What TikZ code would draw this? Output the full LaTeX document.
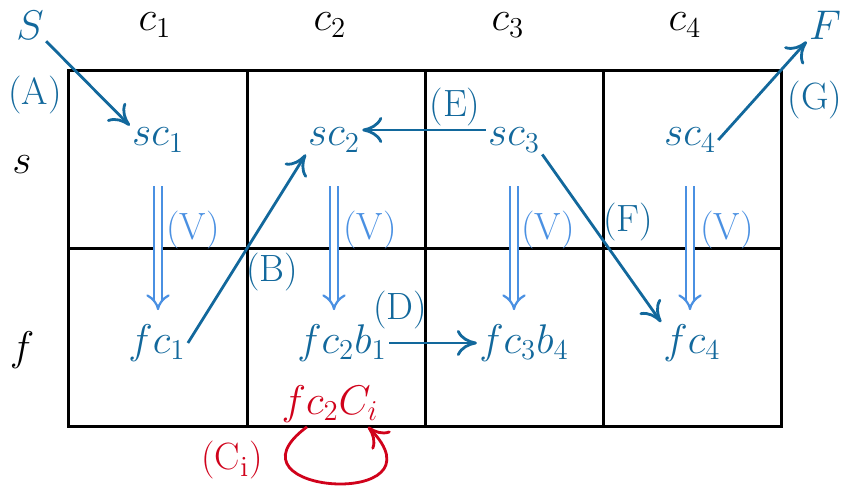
\documentclass[tikz,border=0pt]{standalone}
\usetikzlibrary{arrows.meta,calc}
\definecolor{dblue}{RGB}{18,104,156}
\definecolor{lblue}{RGB}{74,144,226}
\definecolor{cred}{RGB}{208,2,27}
\begin{document}
\begin{tikzpicture}[x=0.5pt,y=-0.5pt,
  every node/.style={font=\fontsize{21}{24}\selectfont, inner sep=1pt},
  bl/.style={text=dblue},
  lab/.style={font=\fontsize{19}{22}\selectfont},
  gridline/.style={line width=1.5pt, black},
  conn/.style={dblue, line width=1.4pt, -{To[length=10pt,width=13pt]}},
  varrow/.style={lblue, double, double distance=2.9pt, line width=1.1pt, -{Implies[scale=1.4]}},
  vlab/.style={text=lblue, font=\fontsize{19}{22}\selectfont},
]
\useasboundingbox (0,0) rectangle (842,490);
% grid
\draw[gridline] (68,71) rectangle (781,427);
\draw[gridline] (68,249) -- (781,249);
\draw[gridline] (247,71) -- (247,427);
\draw[gridline] (425,71) -- (425,427);
\draw[gridline] (603,71) -- (603,427);
% headers
\node[bl] (S) at (30,25) {$S$};
\node (c1) at (155,25) {$c_1$};
\node (c2) at (330,25) {$c_2$};
\node (c3) at (508,25) {$c_3$};
\node (c4) at (685,25) {$c_4$};
\node[bl] (F) at (825,25) {$F$};
\node (rs) at (22,165) {$s$};
\node (rf) at (22,350) {$f$};
% cell nodes
\node[bl] (sc1) at (158,140) {$sc_1$};
\node[bl] (sc2) at (334,140) {$sc_2$};
\node[bl] (sc3) at (514,140) {$sc_3$};
\node[bl] (sc4) at (690,140) {$sc_4$};
\node[bl] (fc1) at (157,343) {$fc_1$};
\node[bl] (fc2) at (342,343) {$fc_2b_1$};
\node[bl] (fc3) at (524,343) {$fc_3b_4$};
\node[bl] (fc4) at (692,343) {$fc_4$};
\node[text=cred] (ci) at (330,404) {$fc_2C_i$};
% connectors
\draw[conn] (S) -- (sc1.north west);
\draw[conn] (fc1.east) -- (sc2.south west);
\draw[conn] (fc2.east) -- (fc3.west);
\draw[conn] ([yshift=5pt]sc3.west) -- ([yshift=5pt]sc2.east);
\draw[conn] (sc3.south east) -- (fc4.north west);
\draw[conn] (sc4.east) -- (F.south west);
% vertical double arrows
\draw[varrow, shorten <=16pt, shorten >=6pt] (sc1) -- (sc1 |- fc1.north);
\draw[varrow, shorten <=16pt, shorten >=6pt] (sc2) -- (sc2 |- fc2.north);
\draw[varrow, shorten <=16pt, shorten >=6pt] (sc3) -- (sc3 |- fc3.north);
\draw[varrow, shorten <=16pt, shorten >=6pt] (sc4) -- (sc4 |- fc4.north);
% loop
\draw[cred, line width=1.4pt, -{To[length=10pt,width=13pt]}]
  ($(ci.south)+(-23,2)$) .. controls (215,495) and (450,510) .. ($(ci.south)+(38,2)$);
% labels
\node[bl, lab] (lA) at (35,95) {(A)};
\node[bl, lab] (lB) at (272,272) {(B)};
\node[text=cred, lab] (lC) at (232,460) {(C$_\mathrm{i}$)};
\node[bl, lab] (lD) at (400,310) {(D)};
\node[bl, lab] (lE) at (455,107) {(E)};
\node[bl, lab] (lF) at (628,222) {(F)};
\node[bl, lab] (lG) at (815,100) {(G)};
\node[vlab] (v1) at (193,230) {(V)};
\node[vlab] (v2) at (370,230) {(V)};
\node[vlab] (v3) at (548,230) {(V)};
\node[vlab] (v4) at (727,230) {(V)};
\end{tikzpicture}
\end{document}
